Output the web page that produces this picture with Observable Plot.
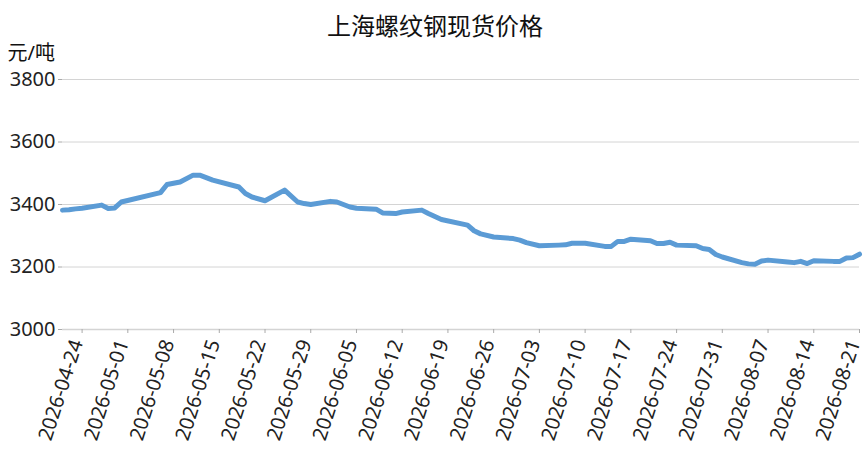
<!DOCTYPE html>
<html>
<head>
<meta charset="utf-8">
<script src="https://cdn.jsdelivr.net/npm/d3@7"></script>
<script src="https://cdn.jsdelivr.net/npm/@observablehq/plot@0.6"></script>
<style>
  html, body { margin: 0; padding: 0; background: #fff; }
  #chart svg { display: block; }
</style>
</head>
<body>
<div id="chart"></div>
<script>
const title = "上海螺纹钢现货价格";
const unitLabel = "元/吨";

const dates = [
  "2026-04-21","2026-04-22","2026-04-23","2026-04-24","2026-04-27","2026-04-28","2026-04-29","2026-04-30",
  "2026-05-06","2026-05-07","2026-05-09","2026-05-11","2026-05-12","2026-05-14","2026-05-18","2026-05-19",
  "2026-05-20","2026-05-22","2026-05-25","2026-05-27","2026-05-28","2026-05-29","2026-06-01","2026-06-02",
  "2026-06-04","2026-06-05","2026-06-08","2026-06-09","2026-06-11","2026-06-12","2026-06-15","2026-06-16",
  "2026-06-18","2026-06-22","2026-06-23","2026-06-24","2026-06-26","2026-06-29","2026-06-30","2026-07-01",
  "2026-07-03","2026-07-06","2026-07-07","2026-07-08","2026-07-10","2026-07-13","2026-07-14","2026-07-15",
  "2026-07-16","2026-07-17","2026-07-20","2026-07-21","2026-07-22","2026-07-23","2026-07-24","2026-07-27",
  "2026-07-28","2026-07-29","2026-07-30","2026-07-31","2026-08-03","2026-08-04","2026-08-05","2026-08-06",
  "2026-08-07","2026-08-10","2026-08-11","2026-08-12","2026-08-13","2026-08-14","2026-08-17","2026-08-18",
  "2026-08-19","2026-08-20","2026-08-21"
];
const prices = [
  3382,3383,3386,3388,3398,3387,3389,3408,
  3438,3464,3472,3494,3494,3478,3456,3435,
  3424,3412,3446,3408,3403,3400,3410,3408,
  3392,3388,3385,3373,3371,3376,3382,3371,
  3352,3334,3316,3306,3296,3291,3286,3278,
  3268,3270,3271,3276,3276,3266,3266,3282,
  3282,3289,3284,3275,3275,3279,3270,3268,
  3259,3256,3240,3232,3214,3210,3209,3219,
  3222,3216,3214,3218,3211,3220,3218,3218,
  3229,3230,3241
];
const tickDates = [
  "2026-04-24","2026-05-01","2026-05-08","2026-05-15","2026-05-22","2026-05-29","2026-06-05","2026-06-12",
  "2026-06-19","2026-06-26","2026-07-03","2026-07-10","2026-07-17","2026-07-24","2026-07-31","2026-08-07",
  "2026-08-14","2026-08-21"
];
const yTicks = [3000, 3200, 3400, 3600, 3800];

const parse = d3.utcParse("%Y-%m-%d");
const data = dates.map((d, i) => ({date: parse(d), price: prices[i]}));
const xTicks = tickDates.map(parse);

const font = "'Noto Sans', 'Noto Sans CJK SC', sans-serif";

const chart = Plot.plot({
  width: 865,
  height: 449,
  marginLeft: 62,
  marginRight: 6,
  marginTop: 79,
  marginBottom: 120,
  style: {fontFamily: font, fontSize: "20px", color: "#222", background: "#fff"},
  x: {type: "utc", domain: [parse("2026-04-21"), parse("2026-08-21")]},
  y: {domain: [3000, 3800]},
  marks: [
    Plot.gridY(yTicks, {stroke: "#d4d4d4", strokeOpacity: 1, strokeWidth: 1}),
    Plot.ruleY([3000], {stroke: "#d4d4d4", strokeWidth: 1.5}),
    Plot.axisY({ticks: yTicks, tickSize: 4, tickPadding: 3, stroke: "#aaa", label: null, fontSize: 20, tickFormat: d => String(d)}),
    Plot.axisX({ticks: xTicks, tickSize: 4, stroke: "#aaa", label: null, tickFormat: () => ""}),
    Plot.axisX({ticks: xTicks, tickSize: 0, tickPadding: 8, tickRotate: -72, label: null, fontSize: 20, dx: -5, dy: 3, tickFormat: d3.utcFormat("%Y-%m-%d")}),
    Plot.line(data, {x: "date", y: "price", stroke: "#5b9bd5", strokeWidth: 5, strokeLinejoin: "round", strokeLinecap: "round"}),
    Plot.text([title], {frameAnchor: "top", dx: -26, dy: -62, fontSize: 24, fill: "#111", fontFamily: font}),
    Plot.text([unitLabel], {frameAnchor: "top-left", textAnchor: "start", dx: -55, dy: -34, fontSize: 20, fill: "#111", fontFamily: font})
  ]
});
document.getElementById("chart").appendChild(chart);
</script>
</body>
</html>
